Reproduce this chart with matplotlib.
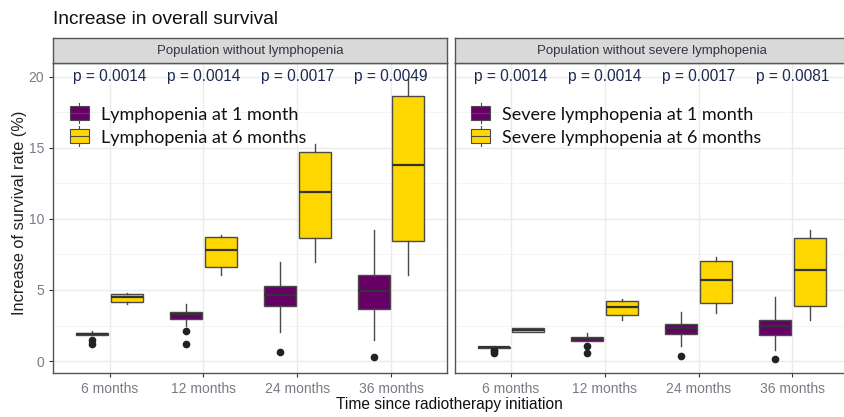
import matplotlib
matplotlib.use("Agg")
import matplotlib.pyplot as plt
from matplotlib.patches import Rectangle
from matplotlib.lines import Line2D
from matplotlib.legend_handler import HandlerBase

plt.rcParams['font.family'] = ['Liberation Sans', 'DejaVu Sans']

times = ['6 months', '12 months', '24 months', '36 months']
panels = ['Population without lymphopenia', 'Population without severe lymphopenia']
p_left = ['p = 0.0014', 'p = 0.0014', 'p = 0.0017', 'p = 0.0049']
p_right = ['p = 0.0014', 'p = 0.0014', 'p = 0.0017', 'p = 0.0081']
labels_left = ['Lymphopenia at 1 month', 'Lymphopenia at 6 months']
labels_right = ['Severe lymphopenia at 1 month', 'Severe lymphopenia at 6 months']

# left panel, lymphopenia at 1 month
l1_lo = [1.85, 2.49, 2.02, 1.51]
l1_q1 = [1.85, 2.96, 3.85, 3.69]
l1_med = [1.92, 3.31, 4.67, 4.95]
l1_q3 = [1.97, 3.48, 5.28, 6.03]
l1_hi = [2.1, 4.04, 6.97, 9.21]
l1_out = [[1.5, 1.2], [2.14, 1.2], [0.67], [0.29]]
# left panel, lymphopenia at 6 months
l6_lo = [4.0, 6.03, 6.97, 6.07]
l6_q1 = [4.16, 6.64, 8.65, 8.46]
l6_med = [4.5, 7.81, 11.92, 13.8]
l6_q3 = [4.74, 8.72, 14.73, 18.67]
l6_hi = [4.8, 8.88, 15.3, 19.9]
l6_out = [[], [], [], []]
# right panel, severe lymphopenia at 1 month
r1_lo = [0.95, 1.44, 1.09, 0.76]
r1_q1 = [0.95, 1.44, 1.88, 1.84]
r1_med = [0.98, 1.58, 2.3, 2.44]
r1_q3 = [1.02, 1.7, 2.58, 2.87]
r1_hi = [1.09, 1.98, 3.43, 4.48]
r1_out = [[0.8, 0.7, 0.6], [1.09, 0.58], [0.34], [0.13]]
# right panel, severe lymphopenia at 6 months
r6_lo = [2.02, 2.91, 3.38, 2.87]
r6_q1 = [2.02, 3.24, 4.06, 3.85]
r6_med = [2.19, 3.83, 5.7, 6.4]
r6_q3 = [2.35, 4.25, 7.01, 8.65]
r6_hi = [2.35, 4.37, 7.32, 9.19]
r6_out = [[], [], [], []]

purple = '#660066'
yellow = '#FFD700'
edge = '#4a4a4a'


def stats(lo, q1, med, q3, hi, out):
    return [dict(whislo=lo[i], q1=q1[i], med=med[i], q3=q3[i], whishi=hi[i], fliers=out[i])
            for i in range(len(lo))]


class BoxHandler(HandlerBase):
    def create_artists(self, legend, orig, xd, yd, w, h, fs, trans):
        fc = orig.get_facecolor()
        cx = xd + w / 2
        a = Line2D([cx, cx], [yd - 0.25 * h, yd + 1.25 * h], color=edge, lw=0.8, transform=trans)
        b = Rectangle((xd, yd), w, h, facecolor=fc, edgecolor=edge, lw=0.8, transform=trans)
        c = Line2D([xd, xd + w], [yd + h / 2, yd + h / 2], color=edge, lw=0.8, transform=trans)
        return [a, b, c]


fig = plt.figure(figsize=(8.45, 4.17), dpi=100)
W, H = 845, 417

panel_x = [53.3, 454.7]
pw = 394
top, bot = 63.3, 373.3
data = [
    (stats(l1_lo, l1_q1, l1_med, l1_q3, l1_hi, l1_out), stats(l6_lo, l6_q1, l6_med, l6_q3, l6_hi, l6_out), p_left, labels_left),
    (stats(r1_lo, r1_q1, r1_med, r1_q3, r1_hi, r1_out), stats(r6_lo, r6_q1, r6_med, r6_q3, r6_hi, r6_out), p_right, labels_right),
]

for k in range(2):
    ax = fig.add_axes([panel_x[k] / W, 1 - bot / H, pw / W, (bot - top) / H])
    s1, s6, pv, labs = data[k]
    pos = list(range(1, len(times) + 1))
    for st, off, col in [(s1, -0.185, purple), (s6, 0.185, yellow)]:
        ax.bxp(st, positions=[p + off for p in pos], widths=0.34, patch_artist=True,
               showcaps=False,
               boxprops=dict(facecolor=col, edgecolor=edge, linewidth=1.0),
               medianprops=dict(color='#333333', linewidth=1.6),
               whiskerprops=dict(color=edge, linewidth=1.0),
               flierprops=dict(marker='o', markerfacecolor='#222222', markeredgecolor='#222222', markersize=4.5),
               zorder=3)
    ax.set_xlim(0.4, 4.6)
    ax.set_ylim(-0.86, 20.94)
    ax.set_xticks(pos)
    ax.set_xticklabels(times)
    ax.set_yticks([0, 5, 10, 15, 20])
    ax.set_yticks([2.5, 7.5, 12.5, 17.5], minor=True)
    ax.grid(True, which='major', color='#ebebeb', lw=1.0, zorder=0)
    ax.grid(True, which='minor', axis='y', color='#f2f2f2', lw=0.6, zorder=0)
    ax.set_axisbelow(True)
    ax.tick_params(axis='both', which='major', length=3, color='#333333', labelsize=10, labelcolor='#7a7a86')
    ax.tick_params(axis='y', which='minor', length=0)
    for sp in ax.spines.values():
        sp.set_color('#555555')
        sp.set_linewidth(1.0)
    if k == 1:
        ax.set_yticklabels([])
        ax.tick_params(axis='y', length=0)
    for i in range(len(pv)):
        ax.text(pos[i], 20, pv[i], ha='center', va='center', fontsize=11.2, color='#1b2a50')
    leg = ax.legend([Rectangle((0, 0), 1, 1, facecolor=purple), Rectangle((0, 0), 1, 1, facecolor=yellow)], labs,
                    handler_map={Rectangle: BoxHandler()}, loc='upper left',
                    bbox_to_anchor=(0.042, 0.858), frameon=False, borderpad=0, borderaxespad=0,
                    handlelength=1.05, handleheight=0.78, handletextpad=0.65, labelspacing=0.38,
                    prop=dict(family='Lato', size=13))
    for t in leg.get_texts():
        t.set_color('#111111')
    sax = fig.add_axes([panel_x[k] / W, 1 - top / H, pw / W, 25 / H])
    sax.set_facecolor('#d9d9d9')
    sax.set_xticks([])
    sax.set_yticks([])
    for sp in sax.spines.values():
        sp.set_color('#555555')
        sp.set_linewidth(1.0)
    sax.text(0.5, 0.5, panels[k], ha='center', va='center', fontsize=9.5, color='#333344',
             transform=sax.transAxes)

fig.text(53 / W, 1 - 20 / H, 'Increase in overall survival', ha='left', va='center', fontsize=13.8, color='#111111')
fig.text(20 / W, 1 - 213 / H, 'Increase of survival rate (%)', rotation=90, ha='center', va='center',
         fontsize=11.8, color='#222222')
fig.text(449 / W, 1 - 405 / H, 'Time since radiotherapy initiation', ha='center', va='center',
         fontsize=11.2, color='#111111')

fig.savefig('out.png', dpi=100)
